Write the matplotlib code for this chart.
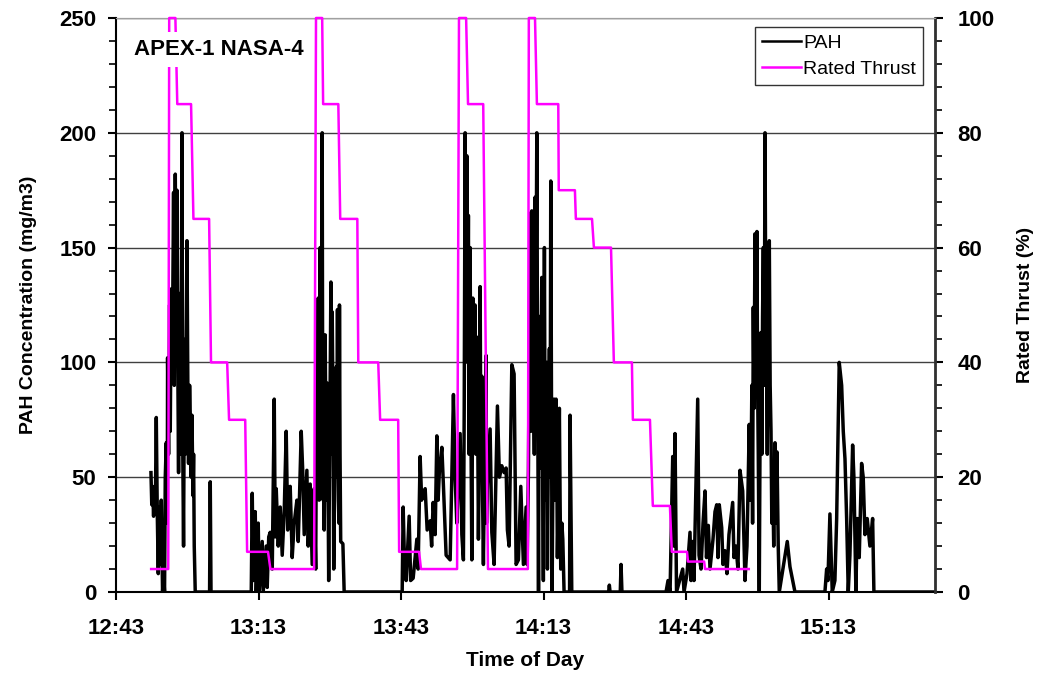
import matplotlib
matplotlib.use("Agg")
import matplotlib.pyplot as plt
from matplotlib.ticker import MultipleLocator, FixedLocator
from matplotlib.lines import Line2D

plt.rcParams['font.family'] = ['Liberation Sans', 'DejaVu Sans']

# ---------------- data (time in minutes after 12:43) ----------------
pah_t = [7.36, 7.53, 7.70, 7.91, 8.06, 8.27, 8.48, 8.69, 8.90, 9.10, 9.32, 9.53, 9.80, 10.01, 10.22,
         10.37, 10.58, 10.79, 10.86, 11.07, 11.28, 11.42, 11.63, 11.85, 12.12, 12.27, 12.48, 12.69,
         12.83, 13.04, 13.17, 13.32, 13.53, 13.74, 13.89, 14.02, 14.22, 14.43, 14.58, 14.94, 15.15,
         15.27, 15.49, 15.63, 15.84, 15.99, 16.20, 16.33, 16.47, 16.68,
         19.70, 19.84, 20.00,
         28.47, 28.68, 28.89, 29.31, 29.52, 29.94, 30.15, 30.78, 30.99, 31.62, 31.83, 32.15, 32.46,
         32.89, 33.31, 33.52, 33.73, 34.15, 34.57, 34.99, 35.41, 35.83, 36.15, 36.46, 36.67, 37.09,
         37.51, 38.08, 38.36, 38.57, 38.99, 39.30, 39.62, 40.18, 40.46, 40.88, 41.30, 41.72, 42.04,
         42.29, 42.56, 42.77, 42.98, 43.19, 43.40, 43.61, 43.82, 44.03, 44.24, 44.45, 44.77, 45.24,
         45.51, 45.83, 46.14, 46.35, 46.62, 46.83, 47.04, 47.30, 47.76, 48.03,
         60.24, 60.45, 60.76, 61.08, 61.71, 62.02, 62.55, 63.33, 63.60, 64.02, 64.34, 64.66, 65.08,
         65.50, 66.13, 66.44, 66.76, 67.18, 67.54, 67.81, 68.08, 68.59, 68.93, 69.49, 70.34, 71.03,
         71.39, 71.74, 72.44, 72.80, 73.13, 73.49, 73.85, 74.18, 74.33, 74.54, 74.90, 75.11, 75.59,
         75.95, 76.29, 76.65, 77.00, 77.34, 77.91, 78.18, 78.75, 79.11, 79.59, 80.29, 80.71, 81.21,
         81.70, 82.12, 82.39, 82.75, 83.32, 83.80, 84.22, 84.71, 85.21, 85.76, 86.33, 86.54, 86.82,
         87.17, 87.53, 87.88, 88.24, 88.58, 88.94, 89.12, 89.41, 89.63, 89.96, 90.18, 90.53, 90.81,
         91.23, 91.52, 91.80, 92.22, 92.64, 92.91, 93.33, 93.62, 94.05, 94.32, 95.48, 95.58, 95.94,
         103.70, 103.85, 104.00, 106.15, 106.31, 106.50,
         115.78, 116.20, 116.63, 117.19, 117.46, 117.67, 117.99, 119.29, 119.57, 120.20, 120.83,
         121.04, 121.35, 121.67, 122.45, 122.73, 123.15, 123.57, 123.99, 124.30, 124.68, 125.04,
         125.67, 126.09, 126.45, 126.72, 126.99, 127.50, 127.77, 128.19, 128.61, 129.03, 129.81,
         130.08, 130.50, 130.92, 131.35, 131.92, 132.40, 132.82, 133.30, 133.66, 134.15, 134.50,
         134.92, 135.20, 135.41, 135.77, 136.26, 136.62, 136.97, 137.24, 137.52, 137.88, 138.23,
         138.72, 139.14, 139.62, 141.30, 141.87, 142.44, 142.92,
         149.23, 149.59, 149.86, 150.28, 150.77, 151.33, 151.70, 152.24, 152.75, 153.09, 153.45,
         153.80, 154.14, 154.49, 155.06, 155.33, 155.75, 156.03, 156.45, 156.95, 157.29, 157.65,
         158.13, 158.70, 159.27, 159.54, 172.40]
pah_v = [52, 38, 46, 33, 45, 35, 76, 34, 8, 37, 12, 40, 0, 8, 0,
         50, 65, 30, 102, 60, 125, 70, 132, 100, 174, 90, 182, 110,
         175, 90, 52, 130, 60, 120, 200, 70, 20, 110, 60, 153, 80,
         56, 90, 77, 50, 77, 42, 60, 20, 0,
         0, 48, 0,
         0, 43, 5, 35, 0, 30, 0, 22, 0, 20, 2, 24, 26,
         10, 84, 24, 45, 20, 37, 16, 35, 70, 27, 40, 46, 15,
         30, 40, 22, 37, 70, 53, 25, 53, 20, 47, 12, 45, 10,
         120, 128, 40, 150, 130, 200, 40, 27, 112, 60, 91, 5, 135,
         122, 10, 70, 98, 123, 40, 125, 22, 21, 0,
         0, 37, 10, 5, 33, 5, 6, 23, 10, 59, 40, 43, 45,
         27, 31, 20, 39, 25, 68, 40, 53, 63, 46, 16, 14, 86,
         50, 30, 69, 25, 14, 200, 190, 164, 60, 150, 14, 128, 125,
         111, 23, 133, 94, 12, 103, 47, 71, 26, 12, 81, 50, 55,
         52, 54, 27, 20, 99, 95, 12, 14, 46, 12, 37, 12, 53,
         165, 166, 98, 172, 200, 0, 120, 54, 137, 5, 150, 78, 10,
         106, 179, 0, 84, 84, 15, 80, 10, 23, 0, 0, 77, 0,
         0, 3, 0, 0, 12, 0,
         0, 5, 0, 59, 20, 69, 0, 10, 0, 8, 26,
         5, 22, 5, 84, 16, 10, 30, 44, 15, 29, 10,
         23, 35, 38, 15, 38, 28, 12, 18, 8, 25, 39,
         15, 20, 10, 53, 44, 5, 20, 73, 50, 124, 156,
         157, 60, 0, 113, 150, 200, 101, 130, 153, 70, 50,
         65, 61, 0, 22, 11, 5, 0,
         0, 10, 5, 34, 0, 5, 32, 100, 90, 70, 58,
         32, 0, 16, 64, 50, 0, 32, 15, 56, 50, 25,
         32, 20, 32, 0, 0]

# additional readings inside the densest bursts (merged by time below)
pah_core_t = [42.42, 42.66, 42.87, 43.08, 43.30, 43.50, 43.72, 43.92, 44.14, 44.35, 44.60, 45.00,
              45.38, 45.68, 45.98, 46.25, 46.48, 46.72, 46.93, 47.16,
              73.30, 73.67, 74.00, 74.42, 74.72, 75.00, 75.35, 75.77, 76.12, 76.47, 76.82, 77.17,
              77.60, 78.00,
              87.35, 87.70, 88.06, 88.40, 88.76, 89.26, 89.50, 89.80, 90.35, 90.67, 91.00, 91.38,
              91.66, 92.00, 92.43, 92.78, 93.10, 93.48, 93.85,
              133.50, 133.85, 134.00, 134.32, 134.70, 135.06, 135.60, 135.95, 136.10, 136.45, 136.80,
              137.10, 137.38, 137.70, 138.05, 138.45, 138.90, 139.40]
pah_core_v = [60, 90, 100, 60, 110, 90, 80, 50, 80, 40, 60, 70,
              60, 80, 40, 60, 50, 70, 30, 60,
              80, 120, 100, 110, 70, 60, 90, 60, 80, 60, 50, 40,
              60, 30,
              70, 110, 60, 120, 90, 90, 100, 60, 40, 100, 60, 50,
              90, 60, 40, 60, 40, 40, 30,
              40, 90, 30, 80, 100, 90, 80, 60, 120, 90, 110,
              60, 80, 90, 30, 20, 30, 20]

thrust_t = [7.4, 11.0, 11.2, 12.5, 12.9, 15.8, 16.3, 19.6, 20.0, 23.4, 23.8, 27.2, 27.6, 32.0, 32.5,
            41.7, 42.1, 43.4, 43.6, 46.8, 47.2, 50.8, 51.0, 55.2, 55.6, 59.4, 59.6, 63.8, 64.2,
            71.8, 72.2, 73.7, 74.1, 77.3, 78.3,
            86.7, 86.9, 88.2, 88.6, 93.1, 93.2, 96.6, 96.8, 100.2, 100.6, 104.2, 104.8, 108.6, 108.8,
            112.4, 113.0, 116.6, 117.0, 120.2, 120.4, 123.8, 124.0, 133.2]
thrust_v = [4, 4, 100, 100, 85, 85, 65, 65, 40, 40, 30, 30, 7, 7, 4,
            4, 100, 100, 85, 85, 65, 65, 40, 40, 30, 30, 7, 7, 4,
            4, 100, 100, 85, 85, 4,
            4, 100, 100, 85, 85, 70, 70, 65, 65, 60, 60, 40, 40, 30, 30,
            15, 15, 7, 7, 5.3, 5.3, 4, 4]

xtick_pos = [0, 30, 60, 90, 120, 150]
xtick_labels = ['12:43', '13:13', '13:43', '14:13', '14:43', '15:13']
x_end = 172.4

# merge PAH readings in time order
pah = sorted(zip(pah_t + pah_core_t, pah_v + pah_core_v))
pah_x = [p[0] for p in pah]
pah_y = [p[1] for p in pah]

# ---------------- figure ----------------
fig = plt.figure(figsize=(10.39, 6.8), dpi=100)
ax = fig.add_axes([116/1039, 88/680, 819/1039, 574/680])
ax2 = ax.twinx()

ax.plot(pah_x, pah_y, color='black', lw=2.5, solid_joinstyle='round', zorder=3)
ax2.plot(thrust_t, thrust_v, color='#ff00ff', lw=1.8, clip_on=False, zorder=4)

ax.set_xlim(0, x_end)
ax.set_ylim(0, 250)
ax2.set_ylim(0, 100)

ax.yaxis.set_major_locator(MultipleLocator(50))
ax.yaxis.set_minor_locator(MultipleLocator(10))
ax2.yaxis.set_major_locator(MultipleLocator(20))
ax2.yaxis.set_minor_locator(MultipleLocator(4))
ax.xaxis.set_major_locator(FixedLocator(xtick_pos))
ax.set_xticklabels(xtick_labels)

for a in (ax, ax2):
    a.tick_params(axis='both', which='major', direction='out', length=6, width=1.5,
                  labelsize=16)
    a.tick_params(axis='both', which='minor', direction='out', length=5, width=1.2)
    for lab in a.get_xticklabels() + a.get_yticklabels():
        lab.set_fontweight('bold')
ax.tick_params(axis='x', pad=13)
ax.tick_params(axis='y', pad=8)
ax2.tick_params(axis='y', pad=10)

ax.grid(axis='y', which='major', color='#404040', lw=1.0, zorder=0)
ax.set_axisbelow(True)

for sp in ('left', 'bottom'):
    ax.spines[sp].set_linewidth(1.5)
ax2.spines['right'].set_linewidth(2.0)
ax2.spines['right'].set_color('#303030')
ax.spines['top'].set_color('#a0a0a0')
ax2.spines['top'].set_color('#a0a0a0')
ax2.spines['left'].set_visible(False)
ax2.spines['bottom'].set_visible(False)

ax.set_xlabel('Time of Day', fontsize=15, fontweight='bold', labelpad=8)
ax.set_ylabel('PAH Concentration (mg/m3)', fontsize=14, fontweight='bold', labelpad=16)
ax2.set_ylabel('Rated Thrust (%)', fontsize=14, fontweight='bold', labelpad=16, rotation=90)

ax2.text(0.022, 0.945, 'APEX-1 NASA-4', transform=ax2.transAxes, fontsize=16,
         fontweight='bold', ha='left', va='center', zorder=10,
         bbox=dict(facecolor='white', edgecolor='none', boxstyle='square,pad=0.3'))

handles = [Line2D([], [], color='black', lw=1.8), Line2D([], [], color='#ff00ff', lw=1.8)]
leg = ax2.legend(handles, ['PAH', 'Rated Thrust'], loc='upper right',
                 bbox_to_anchor=(0.985, 0.984), borderaxespad=0, fontsize=14,
                 handlelength=2.0, handletextpad=0.1, frameon=True, fancybox=False,
                 borderpad=0.35, labelspacing=0.45)
leg.get_frame().set_edgecolor('black')
leg.get_frame().set_linewidth(1.0)
leg.set_zorder(11)

fig.savefig('out.png', dpi=100)
